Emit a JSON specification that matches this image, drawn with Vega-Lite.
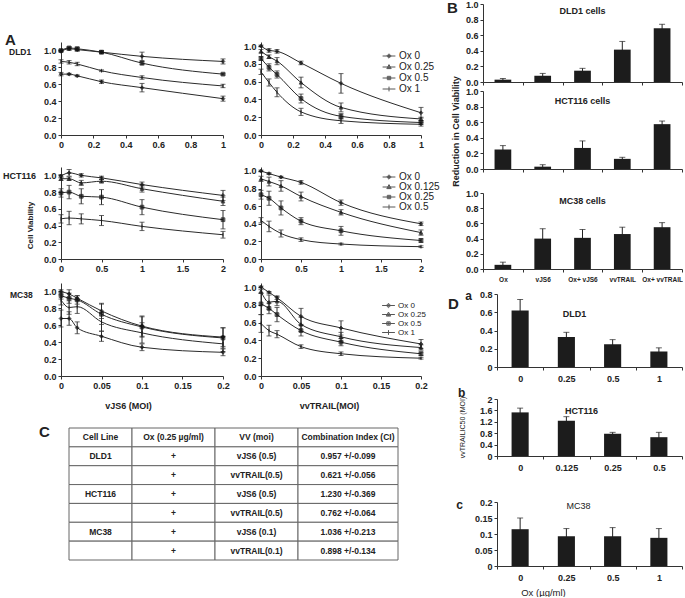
{
"$schema": "https://vega.github.io/schema/vega-lite/v6.json",
"background": "white",
"padding": {"left": 3, "top": 0, "right": 0, "bottom": 0},
"bounds": "flush",
"spacing": 422,
"datasets": {
"dld1_vjs6": [
{"ox":"Ox 0","moi":0,"v":0.99,"e":0.01},{"ox":"Ox 0","moi":0.05,"v":1.02,"e":0.02},{"ox":"Ox 0","moi":0.1,"v":1.01,"e":0.02},{"ox":"Ox 0","moi":0.25,"v":0.98,"e":0.01},{"ox":"Ox 0","moi":0.5,"v":0.93,"e":0.05},{"ox":"Ox 0","moi":1,"v":0.87,"e":0.03},
{"ox":"Ox 0.25","moi":0,"v":1.0,"e":0.01},{"ox":"Ox 0.25","moi":0.05,"v":1.03,"e":0.01},{"ox":"Ox 0.25","moi":0.1,"v":1.02,"e":0.02},{"ox":"Ox 0.25","moi":0.25,"v":0.98,"e":0.02},{"ox":"Ox 0.25","moi":0.5,"v":0.85,"e":0.02},{"ox":"Ox 0.25","moi":1,"v":0.72,"e":0.01},
{"ox":"Ox 0.5","moi":0,"v":0.87,"e":0.02},{"ox":"Ox 0.5","moi":0.05,"v":0.86,"e":0.02},{"ox":"Ox 0.5","moi":0.1,"v":0.84,"e":0.02},{"ox":"Ox 0.5","moi":0.25,"v":0.76,"e":0.01},{"ox":"Ox 0.5","moi":0.5,"v":0.68,"e":0.02},{"ox":"Ox 0.5","moi":1,"v":0.58,"e":0.02},
{"ox":"Ox 1","moi":0,"v":0.72,"e":0.02},{"ox":"Ox 1","moi":0.05,"v":0.72,"e":0.01},{"ox":"Ox 1","moi":0.1,"v":0.7,"e":0.01},{"ox":"Ox 1","moi":0.25,"v":0.63,"e":0.02},{"ox":"Ox 1","moi":0.5,"v":0.56,"e":0.05},{"ox":"Ox 1","moi":1,"v":0.43,"e":0.03}
],
"dld1_vvtrail": [
{"ox":"Ox 0","moi":0,"v":1.0,"e":0.01},{"ox":"Ox 0","moi":0.05,"v":0.95,"e":0.02},{"ox":"Ox 0","moi":0.1,"v":0.94,"e":0.02},{"ox":"Ox 0","moi":0.25,"v":0.81,"e":0.02},{"ox":"Ox 0","moi":0.5,"v":0.58,"e":0.11},{"ox":"Ox 0","moi":1,"v":0.25,"e":0.06},
{"ox":"Ox 0.25","moi":0,"v":0.94,"e":0.02},{"ox":"Ox 0.25","moi":0.05,"v":0.88,"e":0.02},{"ox":"Ox 0.25","moi":0.1,"v":0.83,"e":0.04},{"ox":"Ox 0.25","moi":0.25,"v":0.59,"e":0.06},{"ox":"Ox 0.25","moi":0.5,"v":0.31,"e":0.05},{"ox":"Ox 0.25","moi":1,"v":0.18,"e":0.02},
{"ox":"Ox 0.5","moi":0,"v":0.86,"e":0.02},{"ox":"Ox 0.5","moi":0.05,"v":0.76,"e":0.04},{"ox":"Ox 0.5","moi":0.1,"v":0.68,"e":0.04},{"ox":"Ox 0.5","moi":0.25,"v":0.41,"e":0.05},{"ox":"Ox 0.5","moi":0.5,"v":0.21,"e":0.03},{"ox":"Ox 0.5","moi":1,"v":0.14,"e":0.02},
{"ox":"Ox 1","moi":0,"v":0.71,"e":0.03},{"ox":"Ox 1","moi":0.05,"v":0.59,"e":0.04},{"ox":"Ox 1","moi":0.1,"v":0.48,"e":0.05},{"ox":"Ox 1","moi":0.25,"v":0.26,"e":0.04},{"ox":"Ox 1","moi":0.5,"v":0.16,"e":0.03},{"ox":"Ox 1","moi":1,"v":0.12,"e":0.02}
],
"hct_vjs6": [
{"ox":"Ox 0","moi":0,"v":0.99,"e":0.02},{"ox":"Ox 0","moi":0.1,"v":1.03,"e":0.04},{"ox":"Ox 0","moi":0.25,"v":1.0,"e":0.02},{"ox":"Ox 0","moi":0.5,"v":0.97,"e":0.02},{"ox":"Ox 0","moi":1,"v":0.89,"e":0.03},{"ox":"Ox 0","moi":2,"v":0.76,"e":0.06},
{"ox":"Ox 0.125","moi":0,"v":0.96,"e":0.02},{"ox":"Ox 0.125","moi":0.1,"v":0.96,"e":0.02},{"ox":"Ox 0.125","moi":0.25,"v":0.91,"e":0.03},{"ox":"Ox 0.125","moi":0.5,"v":0.93,"e":0.02},{"ox":"Ox 0.125","moi":1,"v":0.84,"e":0.04},{"ox":"Ox 0.125","moi":2,"v":0.69,"e":0.05},
{"ox":"Ox 0.25","moi":0,"v":0.79,"e":0.05},{"ox":"Ox 0.25","moi":0.1,"v":0.8,"e":0.08},{"ox":"Ox 0.25","moi":0.25,"v":0.75,"e":0.09},{"ox":"Ox 0.25","moi":0.5,"v":0.74,"e":0.09},{"ox":"Ox 0.25","moi":1,"v":0.62,"e":0.09},{"ox":"Ox 0.25","moi":2,"v":0.47,"e":0.11},
{"ox":"Ox 0.5","moi":0,"v":0.48,"e":0.05},{"ox":"Ox 0.5","moi":0.1,"v":0.49,"e":0.08},{"ox":"Ox 0.5","moi":0.25,"v":0.48,"e":0.06},{"ox":"Ox 0.5","moi":0.5,"v":0.46,"e":0.06},{"ox":"Ox 0.5","moi":1,"v":0.39,"e":0.05},{"ox":"Ox 0.5","moi":2,"v":0.29,"e":0.04}
],
"hct_vvtrail": [
{"ox":"Ox 0","moi":0,"v":1.0,"e":0.01},{"ox":"Ox 0","moi":0.1,"v":0.97,"e":0.01},{"ox":"Ox 0","moi":0.25,"v":0.93,"e":0.01},{"ox":"Ox 0","moi":0.5,"v":0.87,"e":0.02},{"ox":"Ox 0","moi":1,"v":0.64,"e":0.03},{"ox":"Ox 0","moi":2,"v":0.4,"e":0.02},
{"ox":"Ox 0.125","moi":0,"v":0.91,"e":0.03},{"ox":"Ox 0.125","moi":0.1,"v":0.88,"e":0.05},{"ox":"Ox 0.125","moi":0.25,"v":0.83,"e":0.06},{"ox":"Ox 0.125","moi":0.5,"v":0.71,"e":0.05},{"ox":"Ox 0.125","moi":1,"v":0.53,"e":0.03},{"ox":"Ox 0.125","moi":2,"v":0.3,"e":0.03},
{"ox":"Ox 0.25","moi":0,"v":0.73,"e":0.05},{"ox":"Ox 0.25","moi":0.1,"v":0.69,"e":0.08},{"ox":"Ox 0.25","moi":0.25,"v":0.58,"e":0.08},{"ox":"Ox 0.25","moi":0.5,"v":0.43,"e":0.04},{"ox":"Ox 0.25","moi":1,"v":0.32,"e":0.05},{"ox":"Ox 0.25","moi":2,"v":0.21,"e":0.02},
{"ox":"Ox 0.5","moi":0,"v":0.44,"e":0.03},{"ox":"Ox 0.5","moi":0.1,"v":0.37,"e":0.06},{"ox":"Ox 0.5","moi":0.25,"v":0.29,"e":0.04},{"ox":"Ox 0.5","moi":0.5,"v":0.22,"e":0.02},{"ox":"Ox 0.5","moi":1,"v":0.17,"e":0.01},{"ox":"Ox 0.5","moi":2,"v":0.14,"e":0.01}
],
"mc38_vjs6": [
{"ox":"Ox 0","moi":0,"v":1.0,"e":0.02},{"ox":"Ox 0","moi":0.01,"v":0.97,"e":0.05},{"ox":"Ox 0","moi":0.02,"v":0.92,"e":0.03},{"ox":"Ox 0","moi":0.05,"v":0.77,"e":0.09},{"ox":"Ox 0","moi":0.1,"v":0.59,"e":0.12},{"ox":"Ox 0","moi":0.2,"v":0.46,"e":0.11},
{"ox":"Ox 0.25","moi":0,"v":0.95,"e":0.04},{"ox":"Ox 0.25","moi":0.01,"v":0.92,"e":0.06},{"ox":"Ox 0.25","moi":0.02,"v":0.9,"e":0.05},{"ox":"Ox 0.25","moi":0.05,"v":0.73,"e":0.12},{"ox":"Ox 0.25","moi":0.1,"v":0.58,"e":0.12},{"ox":"Ox 0.25","moi":0.2,"v":0.45,"e":0.12},
{"ox":"Ox 0.5","moi":0,"v":0.9,"e":0.06},{"ox":"Ox 0.5","moi":0.01,"v":0.81,"e":0.08},{"ox":"Ox 0.5","moi":0.02,"v":0.82,"e":0.08},{"ox":"Ox 0.5","moi":0.05,"v":0.64,"e":0.11},{"ox":"Ox 0.5","moi":0.1,"v":0.51,"e":0.12},{"ox":"Ox 0.5","moi":0.2,"v":0.38,"e":0.09},
{"ox":"Ox 1","moi":0,"v":0.68,"e":0.1},{"ox":"Ox 1","moi":0.01,"v":0.68,"e":0.08},{"ox":"Ox 1","moi":0.02,"v":0.57,"e":0.07},{"ox":"Ox 1","moi":0.05,"v":0.47,"e":0.06},{"ox":"Ox 1","moi":0.1,"v":0.34,"e":0.04},{"ox":"Ox 1","moi":0.2,"v":0.28,"e":0.04}
],
"mc38_vvtrail": [
{"ox":"Ox 0","moi":0,"v":1.0,"e":0.01},{"ox":"Ox 0","moi":0.01,"v":0.94,"e":0.01},{"ox":"Ox 0","moi":0.02,"v":0.88,"e":0.02},{"ox":"Ox 0","moi":0.05,"v":0.67,"e":0.09},{"ox":"Ox 0","moi":0.1,"v":0.54,"e":0.08},{"ox":"Ox 0","moi":0.2,"v":0.36,"e":0.05},
{"ox":"Ox 0.25","moi":0,"v":0.95,"e":0.02},{"ox":"Ox 0.25","moi":0.01,"v":0.83,"e":0.08},{"ox":"Ox 0.25","moi":0.02,"v":0.84,"e":0.05},{"ox":"Ox 0.25","moi":0.05,"v":0.58,"e":0.08},{"ox":"Ox 0.25","moi":0.1,"v":0.44,"e":0.05},{"ox":"Ox 0.25","moi":0.2,"v":0.32,"e":0.03},
{"ox":"Ox 0.5","moi":0,"v":0.81,"e":0.12},{"ox":"Ox 0.5","moi":0.01,"v":0.76,"e":0.06},{"ox":"Ox 0.5","moi":0.02,"v":0.69,"e":0.08},{"ox":"Ox 0.5","moi":0.05,"v":0.51,"e":0.06},{"ox":"Ox 0.5","moi":0.1,"v":0.38,"e":0.04},{"ox":"Ox 0.5","moi":0.2,"v":0.25,"e":0.02},
{"ox":"Ox 1","moi":0,"v":0.59,"e":0.1},{"ox":"Ox 1","moi":0.01,"v":0.51,"e":0.06},{"ox":"Ox 1","moi":0.02,"v":0.47,"e":0.04},{"ox":"Ox 1","moi":0.05,"v":0.33,"e":0.02},{"ox":"Ox 1","moi":0.1,"v":0.25,"e":0.02},{"ox":"Ox 1","moi":0.2,"v":0.2,"e":0.01}
],
"b_dld1": [{"g":"Ox","v":0.03,"e":0.015},{"g":"vJS6","v":0.08,"e":0.03},{"g":"Ox+ vJS6","v":0.145,"e":0.03},{"g":"vvTRAIL","v":0.415,"e":0.105},{"g":"Ox+ vvTRAIL","v":0.69,"e":0.05}],
"b_hct": [{"g":"Ox","v":0.25,"e":0.05},{"g":"vJS6","v":0.03,"e":0.025},{"g":"Ox+ vJS6","v":0.27,"e":0.09},{"g":"vvTRAIL","v":0.13,"e":0.02},{"g":"Ox+ vvTRAIL","v":0.575,"e":0.04}],
"b_mc38": [{"g":"Ox","v":0.055,"e":0.035},{"g":"vJS6","v":0.4,"e":0.13},{"g":"Ox+ vJS6","v":0.41,"e":0.11},{"g":"vvTRAIL","v":0.46,"e":0.09},{"g":"Ox+ vvTRAIL","v":0.55,"e":0.06}],
"d_dld1": [{"g":"0","v":0.62,"e":0.12},{"g":"0.25","v":0.33,"e":0.05},{"g":"0.5","v":0.25,"e":0.05},{"g":"1","v":0.17,"e":0.04}],
"d_hct": [{"g":"0","v":1.53,"e":0.15},{"g":"0.125","v":1.24,"e":0.14},{"g":"0.25","v":0.78,"e":0.05},{"g":"0.5","v":0.66,"e":0.17}],
"d_mc38": [{"g":"0","v":0.115,"e":0.035},{"g":"0.25","v":0.093,"e":0.024},{"g":"0.5","v":0.093,"e":0.027},{"g":"1","v":0.088,"e":0.029}],
"table": [
{"col":1,"row":0,"t":"Cell Line"},{"col":1,"row":1,"t":"DLD1"},{"col":1,"row":2,"t":""},{"col":1,"row":3,"t":"HCT116"},{"col":1,"row":4,"t":""},{"col":1,"row":5,"t":"MC38"},{"col":1,"row":6,"t":""},
{"col":2,"row":0,"t":"Ox (0.25 µg/ml)"},{"col":2,"row":1,"t":"+"},{"col":2,"row":2,"t":"+"},{"col":2,"row":3,"t":"+"},{"col":2,"row":4,"t":"+"},{"col":2,"row":5,"t":"+"},{"col":2,"row":6,"t":"+"},
{"col":3,"row":0,"t":"VV (moi)"},{"col":3,"row":1,"t":"vJS6 (0.5)"},{"col":3,"row":2,"t":"vvTRAIL(0.5)"},{"col":3,"row":3,"t":"vJS6 (0.5)"},{"col":3,"row":4,"t":"vvTRAIL(0.5)"},{"col":3,"row":5,"t":"vJS6 (0.1)"},{"col":3,"row":6,"t":"vvTRAIL(0.1)"},
{"col":4,"row":0,"t":"Combination Index (CI)"},{"col":4,"row":1,"t":"0.957 +/-0.099"},{"col":4,"row":2,"t":"0.621 +/-0.056"},{"col":4,"row":3,"t":"1.230 +/-0.369"},{"col":4,"row":4,"t":"0.762 +/-0.064"},{"col":4,"row":5,"t":"1.036 +/-0.213"},{"col":4,"row":6,"t":"0.898 +/-0.134"}
]
},
"hconcat": [
{"bounds": "flush", "spacing": 37, "vconcat": [
  {"width": 1, "height": 1, "data": {"values": [{"s": 0}]}, "mark": {"type": "point", "opacity": 0}, "encoding": {}},
  {"bounds": "flush", "spacing": 386, "vconcat": [
    {"bounds": "flush", "spacing": 125,
     "title": {"text": "A", "anchor": "start", "frame": "group", "dx": -56, "offset": -6, "fontSize": 15},
     "vconcat": [
      {"bounds": "flush", "spacing": 38,
       "title": {"text": "DLD1", "anchor": "start", "frame": "group", "dx": -52, "offset": -18, "baseline": "middle", "fontSize": 8.5},
       "hconcat": [
        {"width": 162, "height": 93, "data": {"name": "dld1_vjs6"},
         "encoding": {
          "x": {"field": "moi", "type": "quantitative", "scale": {"domain": [0, 1], "nice": false}, "axis": {"title": null, "values": [0, 0.2, 0.4, 0.6, 0.8, 1], "format": "~g"}},
          "y": {"field": "v", "type": "quantitative", "scale": {"domain": [0, 1.1], "nice": false}, "axis": {"title": null, "values": [0, 0.2, 0.4, 0.6, 0.8, 1], "format": ".1f"}}},
         "layer": [
          {"mark": {"type": "line", "interpolate": "monotone", "color": "#2b2b2b", "strokeWidth": 1}, "encoding": {"detail": {"field": "ox", "type": "nominal"}}},
          {"mark": {"type": "errorbar", "color": "#2b2b2b", "ticks": {"size": 5}}, "encoding": {"yError": {"field": "e"}}},
          {"mark": {"type": "point", "filled": true, "size": 14, "color": "#111", "stroke": "#111", "strokeWidth": 1}, "encoding": {"shape": {"field": "ox", "type": "nominal", "scale": {"range": ["diamond", "triangle-up", "square", "M0,-1V1"]}, "legend": null}}}
         ]},
        {"width": 160, "height": 93, "data": {"name": "dld1_vvtrail"},
         "encoding": {
          "x": {"field": "moi", "type": "quantitative", "scale": {"domain": [0, 1], "nice": false}, "axis": {"title": null, "values": [0, 0.2, 0.4, 0.6, 0.8, 1], "format": "~g"}},
          "y": {"field": "v", "type": "quantitative", "scale": {"domain": [0, 1.045], "nice": false}, "axis": {"title": null, "values": [0, 0.2, 0.4, 0.6, 0.8, 1], "format": ".1f"}}},
         "layer": [
          {"mark": {"type": "line", "interpolate": "monotone", "color": "#2b2b2b", "strokeWidth": 1}, "encoding": {"detail": {"field": "ox", "type": "nominal"}}},
          {"mark": {"type": "errorbar", "color": "#2b2b2b", "ticks": {"size": 5}}, "encoding": {"yError": {"field": "e"}}},
          {"mark": {"type": "point", "filled": true, "size": 14, "color": "#111", "stroke": "#111", "strokeWidth": 1}, "encoding": {"shape": {"field": "ox", "type": "nominal", "scale": {"range": ["diamond", "triangle-up", "square", "M0,-1V1"]}, "legend": null}}},
          {"transform": [{"filter": "datum.v < 0"}], "mark": {"type": "point", "filled": false, "color": "#111", "strokeWidth": 1},
           "encoding": {"shape": {"field": "ox", "type": "nominal", "scale": {"domain": ["Ox 0", "Ox 0.25", "Ox 0.5", "Ox 1"], "range": ["M-1.6,0H1.6M0,-0.55L0.55,0L0,0.55L-0.55,0ZM0,-0.25L0.25,0L0,0.25L-0.25,0Z", "M-1.6,0H1.6M0,-0.6L0.55,0.4L-0.55,0.4ZM0,-0.2L0.25,0.25L-0.25,0.25Z", "M-1.6,0H1.6M-0.42,-0.42H0.42V0.42H-0.42ZM-0.18,-0.18H0.18V0.18H-0.18Z", "M-1.6,0H1.6M0,-0.6V0.6"]},
            "legend": {"orient": "none", "legendX": 123, "legendY": 9, "title": null, "symbolSize": 64, "labelFontSize": 10, "rowPadding": 1, "labelOffset": 5, "symbolStrokeColor": "#111", "symbolFillColor": "#111", "symbolStrokeWidth": 1, "encode": {"symbols": {"update": {"stroke": {"value": "#111"}, "strokeWidth": {"value": 1}, "fill": {"value": "#111"}, "opacity": {"value": 1}}}}}}}}
         ],
         "resolve": {"scale": {"shape": "independent"}}}
       ]},
      {"bounds": "flush", "spacing": 116, "vconcat": [
        {"bounds": "flush", "spacing": 38,
         "title": {"text": "HCT116", "anchor": "start", "frame": "group", "dx": -58, "offset": -18, "baseline": "middle", "fontSize": 9},
         "hconcat": [
          {"width": 162, "height": 92, "data": {"name": "hct_vjs6"},
           "encoding": {
            "x": {"field": "moi", "type": "quantitative", "scale": {"domain": [0, 2], "nice": false}, "axis": {"title": null, "values": [0, 0.5, 1, 1.5, 2], "format": "~g"}},
            "y": {"field": "v", "type": "quantitative", "scale": {"domain": [0, 1.1], "nice": false}, "axis": {"title": "Cell Viability", "titleFontSize": 8, "titleX": -31, "titleY": 58, "titleAlign": "center", "titleBaseline": "middle", "values": [0, 0.2, 0.4, 0.6, 0.8, 1], "format": ".1f"}}},
           "layer": [
            {"mark": {"type": "line", "interpolate": "monotone", "color": "#2b2b2b", "strokeWidth": 1}, "encoding": {"detail": {"field": "ox", "type": "nominal"}}},
            {"mark": {"type": "errorbar", "color": "#2b2b2b", "ticks": {"size": 5}}, "encoding": {"yError": {"field": "e"}}},
            {"mark": {"type": "point", "filled": true, "size": 14, "color": "#111", "stroke": "#111", "strokeWidth": 1}, "encoding": {"shape": {"field": "ox", "type": "nominal", "scale": {"range": ["diamond", "triangle-up", "square", "M0,-1V1"]}, "legend": null}}}
           ]},
          {"width": 160, "height": 92, "data": {"name": "hct_vvtrail"},
           "encoding": {
            "x": {"field": "moi", "type": "quantitative", "scale": {"domain": [0, 2], "nice": false}, "axis": {"title": null, "values": [0, 0.5, 1, 1.5, 2], "format": "~g"}},
            "y": {"field": "v", "type": "quantitative", "scale": {"domain": [0, 1.045], "nice": false}, "axis": {"title": null, "values": [0, 0.2, 0.4, 0.6, 0.8, 1], "format": ".1f"}}},
           "layer": [
            {"mark": {"type": "line", "interpolate": "monotone", "color": "#2b2b2b", "strokeWidth": 1}, "encoding": {"detail": {"field": "ox", "type": "nominal"}}},
            {"mark": {"type": "errorbar", "color": "#2b2b2b", "ticks": {"size": 5}}, "encoding": {"yError": {"field": "e"}}},
            {"mark": {"type": "point", "filled": true, "size": 14, "color": "#111", "stroke": "#111", "strokeWidth": 1}, "encoding": {"shape": {"field": "ox", "type": "nominal", "scale": {"range": ["diamond", "triangle-up", "square", "M0,-1V1"]}, "legend": null}}},
            {"transform": [{"filter": "datum.v < 0"}], "mark": {"type": "point", "filled": false, "color": "#111", "strokeWidth": 1},
             "encoding": {"shape": {"field": "ox", "type": "nominal", "scale": {"domain": ["Ox 0", "Ox 0.125", "Ox 0.25", "Ox 0.5"], "range": ["M-1.6,0H1.6M0,-0.55L0.55,0L0,0.55L-0.55,0ZM0,-0.25L0.25,0L0,0.25L-0.25,0Z", "M-1.6,0H1.6M0,-0.6L0.55,0.4L-0.55,0.4ZM0,-0.2L0.25,0.25L-0.25,0.25Z", "M-1.6,0H1.6M-0.42,-0.42H0.42V0.42H-0.42ZM-0.18,-0.18H0.18V0.18H-0.18Z", "M-1.6,0H1.6M0,-0.6V0.6"]},
              "legend": {"orient": "none", "legendX": 123, "legendY": 5, "title": null, "symbolSize": 64, "labelFontSize": 10, "rowPadding": 0, "labelOffset": 5, "symbolStrokeColor": "#111", "symbolFillColor": "#111", "symbolStrokeWidth": 1, "encode": {"symbols": {"update": {"stroke": {"value": "#111"}, "strokeWidth": {"value": 1}, "fill": {"value": "#111"}, "opacity": {"value": 1}}}}}}}}
           ],
           "resolve": {"scale": {"shape": "independent"}}}
         ]},
        {"bounds": "flush", "spacing": 38,
         "title": {"text": "MC38", "anchor": "start", "frame": "group", "dx": -51, "offset": -20, "baseline": "middle", "fontSize": 8.5},
         "hconcat": [
          {"width": 162, "height": 93, "data": {"name": "mc38_vjs6"},
           "encoding": {
            "x": {"field": "moi", "type": "quantitative", "scale": {"domain": [0, 0.2], "nice": false}, "axis": {"title": "vJS6 (MOI)", "titleFontSize": 9, "titleX": 67, "titleY": 29, "titleAlign": "center", "titleBaseline": "middle", "values": [0, 0.05, 0.1, 0.15, 0.2], "format": "~g"}},
            "y": {"field": "v", "type": "quantitative", "scale": {"domain": [0, 1.1], "nice": false}, "axis": {"title": null, "values": [0, 0.2, 0.4, 0.6, 0.8, 1], "format": ".1f"}}},
           "layer": [
            {"mark": {"type": "line", "interpolate": "monotone", "color": "#2b2b2b", "strokeWidth": 1}, "encoding": {"detail": {"field": "ox", "type": "nominal"}}},
            {"mark": {"type": "errorbar", "color": "#2b2b2b", "ticks": {"size": 5}}, "encoding": {"yError": {"field": "e"}}},
            {"mark": {"type": "point", "filled": true, "size": 14, "color": "#111", "stroke": "#111", "strokeWidth": 1}, "encoding": {"shape": {"field": "ox", "type": "nominal", "scale": {"range": ["diamond", "triangle-up", "square", "M0,-1V1"]}, "legend": null}}}
           ]},
          {"width": 160, "height": 93, "data": {"name": "mc38_vvtrail"},
           "encoding": {
            "x": {"field": "moi", "type": "quantitative", "scale": {"domain": [0, 0.2], "nice": false}, "axis": {"title": "vvTRAIL(MOI)", "titleFontSize": 9, "titleX": 68, "titleY": 29, "titleAlign": "center", "titleBaseline": "middle", "values": [0, 0.05, 0.1, 0.15, 0.2], "format": "~g"}},
            "y": {"field": "v", "type": "quantitative", "scale": {"domain": [0, 1.045], "nice": false}, "axis": {"title": null, "values": [0, 0.2, 0.4, 0.6, 0.8, 1], "format": ".1f"}}},
           "layer": [
            {"mark": {"type": "line", "interpolate": "monotone", "color": "#2b2b2b", "strokeWidth": 1}, "encoding": {"detail": {"field": "ox", "type": "nominal"}}},
            {"mark": {"type": "errorbar", "color": "#2b2b2b", "ticks": {"size": 5}}, "encoding": {"yError": {"field": "e"}}},
            {"mark": {"type": "point", "filled": true, "size": 14, "color": "#111", "stroke": "#111", "strokeWidth": 1}, "encoding": {"shape": {"field": "ox", "type": "nominal", "scale": {"range": ["diamond", "triangle-up", "square", "M0,-1V1"]}, "legend": null}}},
            {"transform": [{"filter": "datum.v < 0"}], "mark": {"type": "point", "filled": false, "color": "#111", "strokeWidth": 1},
             "encoding": {"shape": {"field": "ox", "type": "nominal", "scale": {"domain": ["Ox 0", "Ox 0.25", "Ox 0.5", "Ox 1"], "range": ["M-1.6,0H1.6M0,-0.55L0.55,0L0,0.55L-0.55,0ZM0,-0.25L0.25,0L0,0.25L-0.25,0Z", "M-1.6,0H1.6M0,-0.6L0.55,0.4L-0.55,0.4ZM0,-0.2L0.25,0.25L-0.25,0.25Z", "M-1.6,0H1.6M-0.42,-0.42H0.42V0.42H-0.42ZM-0.18,-0.18H0.18V0.18H-0.18Z", "M-1.6,0H1.6M0,-0.6V0.6"]},
              "legend": {"orient": "none", "legendX": 123, "legendY": 18, "title": null, "symbolSize": 64, "labelFontSize": 8, "rowPadding": 0, "labelOffset": 5, "symbolStrokeColor": "#111", "symbolFillColor": "#111", "symbolStrokeWidth": 1, "encode": {"symbols": {"update": {"stroke": {"value": "#111"}, "strokeWidth": {"value": 1}, "fill": {"value": "#111"}, "opacity": {"value": 1}}}}}}}}
           ],
           "resolve": {"scale": {"shape": "independent"}}}
         ]}
      ]}
     ]},
    {"bounds": "flush", "spacing": 7, "hconcat": [
      {"width": 1, "height": 1, "data": {"values": [{"s": 0}]}, "mark": {"type": "point", "opacity": 0}, "encoding": {}},
      {"bounds": "flush", "spacing": 0,
       "title": {"text": "C", "anchor": "start", "frame": "group", "dx": -30, "offset": -19.5, "baseline": "middle", "fontSize": 15},
       "hconcat": [
        {"width": 63, "height": 132, "data": {"name": "table"}, "transform": [{"filter": "datum.col == 1"}],
         "encoding": {"y": {"field": "row", "type": "ordinal", "scale": {"paddingInner": 0, "paddingOuter": 0}, "axis": null}},
         "layer": [{"mark": {"type": "rect", "fill": "white", "stroke": "#666", "strokeWidth": 1}}, {"mark": {"type": "text", "fontSize": 8.5, "fontWeight": "bold", "color": "#222"}, "encoding": {"text": {"field": "t"}}}]},
        {"width": 83, "height": 132, "data": {"name": "table"}, "transform": [{"filter": "datum.col == 2"}],
         "encoding": {"y": {"field": "row", "type": "ordinal", "scale": {"paddingInner": 0, "paddingOuter": 0}, "axis": null}},
         "layer": [{"mark": {"type": "rect", "fill": "white", "stroke": "#666", "strokeWidth": 1}}, {"mark": {"type": "text", "fontSize": 8.5, "fontWeight": "bold", "color": "#222"}, "encoding": {"text": {"field": "t"}}}]},
        {"width": 83, "height": 132, "data": {"name": "table"}, "transform": [{"filter": "datum.col == 3"}],
         "encoding": {"y": {"field": "row", "type": "ordinal", "scale": {"paddingInner": 0, "paddingOuter": 0}, "axis": null}},
         "layer": [{"mark": {"type": "rect", "fill": "white", "stroke": "#666", "strokeWidth": 1}}, {"mark": {"type": "text", "fontSize": 8.5, "fontWeight": "bold", "color": "#222"}, "encoding": {"text": {"field": "t"}}}]},
        {"width": 100, "height": 132, "data": {"name": "table"}, "transform": [{"filter": "datum.col == 4"}],
         "encoding": {"y": {"field": "row", "type": "ordinal", "scale": {"paddingInner": 0, "paddingOuter": 0}, "axis": null}},
         "layer": [{"mark": {"type": "rect", "fill": "white", "stroke": "#666", "strokeWidth": 1}}, {"mark": {"type": "text", "fontSize": 8.5, "fontWeight": "bold", "color": "#222"}, "encoding": {"text": {"field": "t"}}}]}
       ]}
    ]}
  ]}
]},
{"bounds": "flush", "spacing": 9, "vconcat": [
  {"width": 199, "height": 78, "data": {"name": "b_dld1"},
   "title": {"text": "DLD1 cells", "frame": "group", "offset": -19.5, "baseline": "middle", "fontSize": 9},
   "encoding": {
    "x": {"field": "g", "type": "nominal", "sort": null, "scale": {"paddingInner": 0, "paddingOuter": 0}, "axis": {"title": null, "labels": false, "tickBand": "extent"}},
    "y": {"field": "v", "type": "quantitative", "scale": {"domain": [0, 1], "nice": false}, "axis": {"title": "B", "titleAngle": 0, "titleX": -31, "titleY": 3, "titleAlign": "center", "titleBaseline": "middle", "titleFontSize": 15, "values": [0, 0.2, 0.4, 0.6, 0.8, 1], "format": ".1f"}}},
   "layer": [
    {"mark": {"type": "errorbar", "color": "#222", "ticks": {"size": 6}}, "encoding": {"yError": {"field": "e"}}},
    {"mark": {"type": "bar", "color": "#1c1c1c", "width": {"band": 0.42}}}
   ]},
  {"bounds": "flush", "spacing": 24, "vconcat": [
    {"width": 199, "height": 78, "data": {"name": "b_hct"},
     "title": {"text": "HCT116 cells", "frame": "group", "offset": -34.5, "baseline": "middle", "fontSize": 9},
     "encoding": {
      "x": {"field": "g", "type": "nominal", "sort": null, "scale": {"paddingInner": 0, "paddingOuter": 0}, "axis": {"title": null, "labels": false, "tickBand": "extent"}},
      "y": {"field": "v", "type": "quantitative", "scale": {"domain": [0, 1], "nice": false}, "axis": {"title": "Reduction in Cell Viability", "titleFontSize": 9, "titleX": -28, "titleY": 40, "titleAlign": "center", "titleBaseline": "middle", "values": [0, 0.2, 0.4, 0.6, 0.8, 1], "format": ".1f"}}},
     "layer": [
      {"mark": {"type": "errorbar", "color": "#222", "ticks": {"size": 6}}, "encoding": {"yError": {"field": "e"}}},
      {"mark": {"type": "bar", "color": "#1c1c1c", "width": {"band": 0.42}}}
     ]},
    {"bounds": "flush", "spacing": 25, "vconcat": [
      {"width": 199, "height": 76, "data": {"name": "b_mc38"},
       "title": {"text": "MC38 cells", "frame": "group", "offset": -20.5, "baseline": "middle", "fontSize": 9},
       "encoding": {
        "x": {"field": "g", "type": "nominal", "sort": null, "scale": {"paddingInner": 0, "paddingOuter": 0}, "axis": {"title": null, "labelAngle": 0, "labelFontSize": 6.5, "labelPadding": 4, "tickBand": "extent"}},
        "y": {"field": "v", "type": "quantitative", "scale": {"domain": [0, 1], "nice": false}, "axis": {"title": null, "values": [0, 0.2, 0.4, 0.6, 0.8, 1], "format": ".1f"}}},
       "layer": [
        {"mark": {"type": "errorbar", "color": "#222", "ticks": {"size": 6}}, "encoding": {"yError": {"field": "e"}}},
        {"mark": {"type": "bar", "color": "#1c1c1c", "width": {"band": 0.42}}}
       ]},
      {"bounds": "flush", "spacing": 13,
       "title": {"text": "D", "anchor": "start", "frame": "group", "dx": -35, "offset": -30, "baseline": "middle", "fontSize": 15},
       "hconcat": [
        {"width": 1, "height": 1, "data": {"values": [{"s": 0}]}, "mark": {"type": "point", "opacity": 0}, "encoding": {}},
        {"bounds": "flush", "spacing": 32, "vconcat": [
          {"width": 185, "height": 73, "data": {"name": "d_dld1"},
           "title": {"text": "DLD1", "frame": "group", "dx": -15, "offset": -34, "baseline": "middle", "fontSize": 9},
           "encoding": {
            "x": {"field": "g", "type": "nominal", "sort": null, "scale": {"paddingInner": 0, "paddingOuter": 0}, "axis": {"title": null, "labelAngle": 0, "labelFontSize": 9, "labelPadding": 4, "tickBand": "extent"}},
            "y": {"field": "v", "type": "quantitative", "scale": {"domain": [0, 0.8], "nice": false}, "axis": {"title": "a", "titleAngle": 0, "titleX": -29, "titleY": 1, "titleAlign": "center", "titleBaseline": "middle", "titleFontSize": 12, "values": [0, 0.2, 0.4, 0.6, 0.8], "format": "~g"}}},
           "layer": [
            {"mark": {"type": "errorbar", "color": "#222", "ticks": {"size": 6}}, "encoding": {"yError": {"field": "e"}}},
            {"mark": {"type": "bar", "color": "#1c1c1c", "width": {"band": 0.37}}}
           ]},
          {"bounds": "flush", "spacing": 46,
           "title": {"text": "b", "anchor": "start", "frame": "group", "dx": -39, "offset": -10, "baseline": "middle", "fontSize": 12},
           "vconcat": [
            {"width": 185, "height": 57, "data": {"name": "d_hct"},
             "title": {"text": "HCT116", "frame": "group", "dx": -8, "offset": -25, "baseline": "middle", "fontSize": 9},
             "encoding": {
              "x": {"field": "g", "type": "nominal", "sort": null, "scale": {"paddingInner": 0, "paddingOuter": 0}, "axis": {"title": null, "labelAngle": 0, "labelFontSize": 9, "labelPadding": 4, "tickBand": "extent"}},
              "y": {"field": "v", "type": "quantitative", "scale": {"domain": [0, 2], "nice": false}, "axis": {"title": "vvTRAILIC50 (MOI)", "titleFontSize": 7, "titleFontWeight": "normal", "titleX": -35, "titleY": 28, "titleAlign": "center", "titleBaseline": "middle", "values": [0, 0.4, 0.8, 1.2, 1.6, 2], "format": "~g"}}},
             "layer": [
              {"mark": {"type": "errorbar", "color": "#222", "ticks": {"size": 6}}, "encoding": {"yError": {"field": "e"}}},
              {"mark": {"type": "bar", "color": "#1c1c1c", "width": {"band": 0.37}}}
             ]},
            {"width": 185, "height": 64, "data": {"name": "d_mc38"},
             "title": {"text": "MC38", "frame": "group", "dx": -11, "offset": -17, "baseline": "middle", "fontSize": 9, "fontWeight": "normal"},
             "encoding": {
              "x": {"field": "g", "type": "nominal", "sort": null, "scale": {"paddingInner": 0, "paddingOuter": 0}, "axis": {"title": "Ox (µg/ml)", "titleFontSize": 9.5, "titleFontWeight": "normal", "titleX": 46, "titleY": 26, "titleAlign": "center", "titleBaseline": "middle", "labelAngle": 0, "labelFontSize": 9, "labelPadding": 4, "tickBand": "extent"}},
              "y": {"field": "v", "type": "quantitative", "scale": {"domain": [0, 0.2], "nice": false}, "axis": {"title": "c", "titleAngle": 0, "titleX": -38, "titleY": 2, "titleAlign": "center", "titleBaseline": "middle", "titleFontSize": 12, "values": [0, 0.05, 0.1, 0.15, 0.2], "format": "~g"}}},
             "layer": [
              {"mark": {"type": "errorbar", "color": "#222", "ticks": {"size": 6}}, "encoding": {"yError": {"field": "e"}}},
              {"mark": {"type": "bar", "color": "#1c1c1c", "width": {"band": 0.37}}}
             ]}
           ]}
        ]}
       ]}
    ]}
  ]}
]}
],
"config": {
  "view": {"stroke": null},
  "font": "Liberation Sans",
  "axis": {"grid": false, "domainColor": "#333", "tickColor": "#333", "tickSize": 3, "labelFont": "Liberation Sans", "labelFontWeight": "bold", "labelFontSize": 9, "labelColor": "#222", "titleFont": "Liberation Sans", "titleFontWeight": "bold", "titleFontSize": 10, "titleColor": "#222", "labelPadding": 2, "labelFlush": false, "labelOverlap": false},
  "title": {"font": "Liberation Sans", "fontWeight": "bold", "fontSize": 10, "color": "#222"},
  "legend": {"labelFont": "Liberation Sans", "labelFontSize": 10, "labelColor": "#222", "labelFontWeight": "normal"}
}
}
